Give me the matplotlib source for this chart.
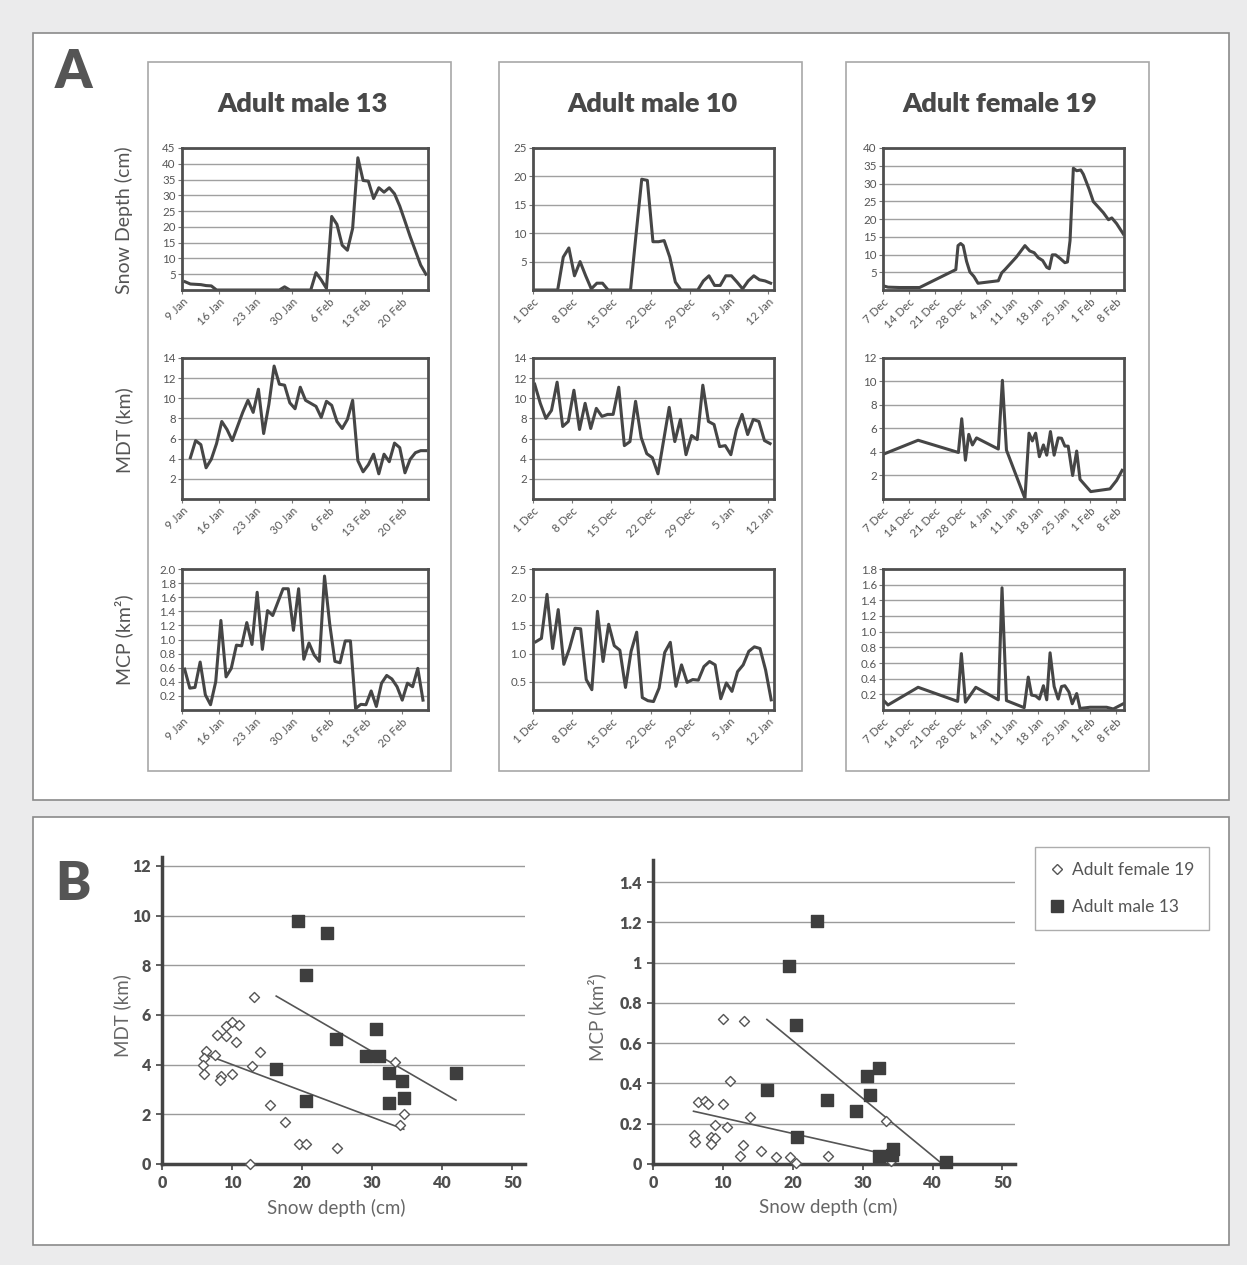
import numpy as np
import matplotlib.pyplot as plt
from matplotlib.patches import Rectangle
from matplotlib.lines import Line2D

plt.rcParams['font.family'] = ['Lato', 'DejaVu Sans']

W, H = 1247, 1265
DARK = '#464646'
GRID = '#a0a0a0'
TXT = '#555555'

# ---------------- panel A data (x = days since first tick date) ----------------
# Adult male 13, days from 9 Jan
m13_ticks = ['9 Jan', '16 Jan', '23 Jan', '30 Jan', '6 Feb', '13 Feb', '20 Feb']
m13_snow_start = 0.6
m13_snow = [2.6, 1.9, 1.8, 1.7, 1.4, 1.3, 0, 0, 0, 0, 0, 0, 0, 0, 0, 0, 0, 0, 0,
            1.0, 0, 0, 0, 0, 0, 5.5, 3.2, 0.5, 23.3, 20.8, 14.2, 12.6, 19.5, 41.9,
            34.7, 34.5, 29.0, 32.4, 31.0, 32.4, 30.5, 26.6, 21.8, 16.9, 12.4, 7.9, 5.0]
m13_mdt_start = 1.6
m13_mdt = [4.1, 5.8, 5.4, 3.1, 3.95, 5.5, 7.7, 6.9, 5.8, 7.2, 8.6, 9.8, 8.6, 10.9,
           6.5, 9.4, 13.2, 11.4, 11.3, 9.55, 8.96, 11.1, 9.8, 9.5, 9.2, 8.1, 9.7,
           9.3, 7.7, 7.0, 7.9, 9.8, 3.8, 2.7, 3.4, 4.45, 2.5, 4.45, 3.7, 5.55, 5.1,
           2.6, 3.95, 4.6, 4.8, 4.8]
m13_mcp_start = 0.5
m13_mcp = [0.58, 0.31, 0.32, 0.68, 0.215, 0.075, 0.40, 1.27, 0.47, 0.59, 0.92, 0.91,
           1.24, 0.93, 1.67, 0.86, 1.41, 1.34, 1.53, 1.72, 1.72, 1.13, 1.72, 0.72,
           0.95, 0.78, 0.69, 1.90, 1.22, 0.69, 0.67, 0.98, 0.98, 0.02, 0.08, 0.075,
           0.27, 0.05, 0.38, 0.49, 0.44, 0.33, 0.14, 0.38, 0.33, 0.59, 0.14]

# Adult male 10, days from 1 Dec
m10_ticks = ['1 Dec', '8 Dec', '15 Dec', '22 Dec', '29 Dec', '5 Jan', '12 Jan']
m10_snow_start = 0.4
m10_snow = [0, 0, 0, 0, 0, 5.8, 7.4, 2.5, 5.0, 2.5, 0.2, 1.2, 1.2, 0, 0, 0, 0, 0,
            9.9, 19.5, 19.3, 8.5, 8.5, 8.7, 5.8, 1.4, 0, 0, 0, 0, 1.6, 2.5, 0.8,
            0.8, 2.5, 2.5, 1.4, 0.2, 1.6, 2.5, 1.8, 1.6, 1.2]
m10_mdt_start = 0.3
m10_mdt = [11.4, 9.5, 8.0, 8.8, 11.6, 7.2, 7.7, 10.8, 6.9, 9.5, 7.0, 9.0, 8.2, 8.4,
           8.4, 11.1, 5.3, 5.7, 9.7, 6.1, 4.5, 4.1, 2.5, 5.8, 9.1, 5.7, 7.9, 4.4,
           6.3, 5.9, 11.3, 7.7, 7.4, 5.2, 5.3, 4.4, 6.9, 8.4, 6.4, 7.9, 7.7, 5.8, 5.5]
m10_mcp_start = 0.5
m10_mcp = [1.21, 1.27, 2.05, 1.09, 1.78, 0.81, 1.09, 1.45, 1.44, 0.54, 0.36, 1.75,
           0.86, 1.52, 1.14, 1.06, 0.40, 1.04, 1.38, 0.22, 0.165, 0.15, 0.39, 1.02,
           1.20, 0.42, 0.80, 0.49, 0.54, 0.53, 0.77, 0.86, 0.80, 0.20, 0.48, 0.33,
           0.68, 0.80, 1.04, 1.12, 1.09, 0.71, 0.18]

# Adult female 19, days from 7 Dec (irregular sampling)
f19_ticks = ['7 Dec', '14 Dec', '21 Dec', '28 Dec', '4 Jan', '11 Jan', '18 Jan',
             '25 Jan', '1 Feb', '8 Feb']
f19_snow_days = [0, 1.35, 4.5, 9.9, 19.7, 20.3, 21.0, 21.7, 22.6, 23.5, 24.6, 25.7,
                 31.2, 32.1, 33.0, 36.1, 38.4, 39.7, 40.9, 42.0, 43.2, 44.3, 45.0,
                 45.8, 46.7, 47.9, 49.2, 49.9, 50.6, 51.5, 52.4, 53.5, 54.2, 55.8,
                 56.9, 58.3, 59.6, 61.0, 61.9, 63.2, 65.0]
f19_snow = [1.2, 0.8, 0.7, 0.7, 5.75, 12.5, 13.1, 12.5, 8.1, 5.1, 3.8, 1.9, 2.6, 4.8,
            5.75, 9.3, 12.5, 11.0, 10.5, 9.1, 8.3, 6.4, 6.0, 9.9, 9.9, 8.9, 7.7, 7.9,
            13.9, 34.3, 33.6, 33.8, 32.6, 28.3, 24.9, 23.3, 21.8, 19.8, 20.3, 18.7, 15.8]
f19_mdt_days = [0, 9.5, 20.4, 21.3, 22.3, 23.2, 24.2, 25.3, 31.2, 32.3, 33.4, 38.4,
                39.5, 40.4, 41.3, 42.3, 43.4, 44.3, 45.3, 46.3, 47.4, 48.3, 49.2,
                50.1, 51.3, 52.4, 53.3, 56.2, 61.4, 63.2, 64.7]
f19_mdt = [3.8, 5.0, 3.96, 6.83, 3.3, 5.5, 4.6, 5.2, 4.25, 10.1, 4.16, 0.05, 5.6,
           4.94, 5.6, 3.6, 4.6, 3.73, 5.74, 3.73, 5.2, 5.17, 4.5, 4.5, 2.0, 4.08,
           1.67, 0.63, 0.86, 1.58, 2.44]
f19_mcp_days = [0, 1.35, 9.5, 20.2, 21.2, 22.3, 25.1, 31.2, 32.2, 33.4, 38.2, 39.3,
                40.2, 41.3, 42.3, 43.4, 44.3, 45.2, 46.3, 47.4, 48.3, 49.2, 50.3,
                51.2, 52.4, 53.3, 56.0, 60.5, 62.3, 65.0]
f19_mcp = [0.13, 0.064, 0.29, 0.11, 0.72, 0.10, 0.29, 0.13, 1.56, 0.12, 0.03, 0.42,
           0.19, 0.18, 0.14, 0.31, 0.13, 0.73, 0.30, 0.14, 0.30, 0.31, 0.23, 0.08,
           0.21, 0.02, 0.035, 0.035, 0.013, 0.08]

# ---------------- panel B data ----------------
f19_depth_a = [12.5, 13.1, 6.3, 5.95, 5.86, 6.05, 7.6, 7.86, 8.48, 8.33, 9.1, 9.1,
               10.0, 10.0, 10.6, 11.05, 12.86, 14.05, 15.4, 17.5, 19.6, 20.5, 25.0,
               33.3, 33.95, 34.5]
f19_mdt_b = [0.0, 6.74, 4.53, 4.26, 4.0, 3.64, 4.37, 5.18, 3.55, 3.37, 5.54, 5.16,
             5.73, 3.61, 4.92, 5.6, 3.93, 4.52, 2.39, 1.68, 0.79, 0.79, 0.63, 4.09,
             1.57, 2.0]
m13_depth_a = [19.4, 23.5, 20.6, 30.6, 24.9, 29.1, 30.95, 16.3, 32.4, 34.3, 41.95,
               20.6, 32.4, 34.5]
m13_mdt_b = [9.79, 9.32, 7.62, 5.44, 5.04, 4.34, 4.34, 3.83, 3.66, 3.33, 3.66, 2.52,
             2.44, 2.64]
f19_depth_b = [9.98, 13.07, 11.03, 6.37, 7.46, 7.84, 9.98, 13.88, 5.8, 5.94, 8.94,
               10.55, 8.32, 8.89, 8.32, 12.83, 12.45, 15.4, 17.54, 19.58, 20.53,
               25.05, 33.27, 34.08]
f19_mcp_b = [0.721, 0.708, 0.414, 0.308, 0.311, 0.298, 0.300, 0.232, 0.146, 0.108,
             0.195, 0.184, 0.134, 0.129, 0.101, 0.093, 0.041, 0.066, 0.035, 0.035,
             0.005, 0.038, 0.212, 0.013]
m13_depth_b = [23.48, 19.49, 20.53, 32.41, 30.56, 16.3, 30.99, 24.9, 29.09, 20.63,
               34.41, 32.41, 34.22, 41.92]
m13_mcp_b = [1.205, 0.985, 0.688, 0.477, 0.435, 0.369, 0.344, 0.319, 0.261, 0.134,
             0.074, 0.041, 0.045, 0.010]


fig = plt.figure(figsize=(W / 100, H / 100), dpi=100, facecolor='#ebebec')


def px_rect(x0, y0, x1, y1):
    return [x0 / W, 1 - y1 / H, (x1 - x0) / W, (y1 - y0) / H]


def box(x0, y0, x1, y1, ec):
    fig.add_artist(Rectangle((x0 / W, 1 - y1 / H), (x1 - x0) / W, (y1 - y0) / H,
                             transform=fig.transFigure, fc='white', ec=ec,
                             lw=1.2, zorder=-1))


box(33, 33, 1229, 800, '#8a8a8a')
box(33, 817, 1229, 1245, '#8a8a8a')
for cx0 in (148, 499, 846):
    box(cx0, 62, cx0 + 303, 771, '#a8a8a8')


def ts_panel(rect, x, y, xmax, ticklabels, ymax, ystep, fmt):
    ax = fig.add_axes(rect)
    ax.plot(x, y, color=DARK, lw=2.2, solid_joinstyle='round')
    ax.set_xlim(0, xmax)
    ax.set_ylim(0, ymax)
    ax.set_xticks(np.arange(len(ticklabels)) * 7)
    ax.set_xticklabels(ticklabels, rotation=45, ha='right', rotation_mode='anchor')
    yt = np.arange(ystep, ymax + ystep / 2, ystep)
    ax.set_yticks(yt)
    ax.set_yticklabels([fmt % v for v in yt])
    ax.yaxis.grid(True, color=GRID, lw=1)
    ax.set_axisbelow(True)
    for s in ax.spines.values():
        s.set_color('#4f4f4f')
        s.set_linewidth(2)
    ax.tick_params(labelsize=8.3, labelcolor=TXT, color='#777777', length=3,
                   width=0.8, pad=1.5)
    return ax


rows = [(148, 290), (358, 499), (569, 710)]
cols = [(182, 428), (533, 774), (883, 1124)]

# column 1: adult male 13
c = cols[0]
ts_panel(px_rect(c[0], rows[0][0], c[1], rows[0][1]),
         m13_snow_start + np.arange(len(m13_snow)), m13_snow, 47, m13_ticks, 45, 5, '%d')
ts_panel(px_rect(c[0], rows[1][0], c[1], rows[1][1]),
         m13_mdt_start + np.arange(len(m13_mdt)), m13_mdt, 47, m13_ticks, 14, 2, '%d')
ts_panel(px_rect(c[0], rows[2][0], c[1], rows[2][1]),
         m13_mcp_start + 0.99 * np.arange(len(m13_mcp)), m13_mcp, 47, m13_ticks, 2.0, 0.2, '%.1f')

# column 2: adult male 10
c = cols[1]
ts_panel(px_rect(c[0], rows[0][0], c[1], rows[0][1]),
         m10_snow_start + np.arange(len(m10_snow)), m10_snow, 43, m10_ticks, 25, 5, '%d')
ts_panel(px_rect(c[0], rows[1][0], c[1], rows[1][1]),
         m10_mdt_start + np.arange(len(m10_mdt)), m10_mdt, 43, m10_ticks, 14, 2, '%d')
ts_panel(px_rect(c[0], rows[2][0], c[1], rows[2][1]),
         m10_mcp_start + np.arange(len(m10_mcp)), m10_mcp, 43, m10_ticks, 2.5, 0.5, '%.1f')

# column 3: adult female 19
c = cols[2]
ts_panel(px_rect(c[0], rows[0][0], c[1], rows[0][1]),
         f19_snow_days, f19_snow, 65.2, f19_ticks, 40, 5, '%d')
ts_panel(px_rect(c[0], rows[1][0], c[1], rows[1][1]),
         f19_mdt_days, f19_mdt, 65.2, f19_ticks, 12, 2, '%d')
ts_panel(px_rect(c[0], rows[2][0], c[1], rows[2][1]),
         f19_mcp_days, f19_mcp, 65.2, f19_ticks, 1.8, 0.2, '%.1f')

# titles and labels
for cx, title in zip((302, 652, 1000), ('Adult male 13', 'Adult male 10', 'Adult female 19')):
    fig.text(cx / W, 1 - 104 / H, title, ha='center', va='center', fontsize=19.5,
             fontweight='heavy', color='#484848')
for cy, lab in zip((220, 430, 640), ('Snow Depth (cm)', 'MDT (km)', 'MCP (km²)')):
    fig.text(124 / W, 1 - cy / H, lab, rotation=90, ha='center', va='center',
             fontsize=14, color=TXT)

fig.text(73 / W, 1 - 73 / H, 'A', ha='center', va='center', fontsize=38,
         fontweight='heavy', color='#555555')
fig.text(73 / W, 1 - 885 / H, 'B', ha='center', va='center', fontsize=38,
         fontweight='heavy', color='#555555')


# ---------------- panel B ----------------
def scatter_panel(rect, ymax, yticks, ylabels, fx, fy, mx, my):
    ax = fig.add_axes(rect)
    ax.scatter(fx, fy, marker='D', s=26, facecolors='white', edgecolors='#555555',
               linewidths=1.0, zorder=3, clip_on=False)
    ax.scatter(mx, my, marker='s', s=85, color='#3e3e3e', zorder=3, clip_on=False)
    for xs, ys in ((fx, fy), (mx, my)):
        k, b = np.polyfit(xs, ys, 1)
        xl = np.array([min(xs), max(xs)])
        ax.plot(xl, k * xl + b, color='#555555', lw=1.2, zorder=2)
    ax.set_xlim(0, 51.8)
    ax.set_ylim(0, ymax)
    ax.set_xticks(np.arange(0, 51, 10))
    ax.set_yticks(yticks)
    ax.set_yticklabels(ylabels)
    ax.yaxis.grid(True, color='#9a9a9a', lw=1)
    ax.set_axisbelow(True)
    for s in ('top', 'right'):
        ax.spines[s].set_visible(False)
    for s in ('left', 'bottom'):
        ax.spines[s].set_color('#444444')
        ax.spines[s].set_linewidth(2.5)
    ax.tick_params(labelsize=11.5, labelcolor='#4f4f4f', color='#444444', length=4,
                   width=1.2, pad=4)
    for t in ax.get_xticklabels() + ax.get_yticklabels():
        t.set_fontweight('heavy')
    return ax


scatter_panel(px_rect(162, 857, 525, 1164), 12.36, np.arange(0, 13, 2),
              ['%d' % v for v in np.arange(0, 13, 2)],
              f19_depth_a, f19_mdt_b, m13_depth_a, m13_mdt_b)
mcp_ticks = np.arange(0, 1.41, 0.2)
scatter_panel(px_rect(653, 860, 1015, 1164), 1.51, mcp_ticks,
              ['%g' % round(v, 1) for v in mcp_ticks],
              f19_depth_b, f19_mcp_b, m13_depth_b, m13_mcp_b)

fig.text(122 / W, 1 - 1016 / H, 'MDT (km)', rotation=90, ha='center', va='center',
         fontsize=13.5, color='#666666')
fig.text(597 / W, 1 - 1017 / H, 'MCP (km²)', rotation=90, ha='center', va='center',
         fontsize=13.5, color='#666666')
fig.text(336 / W, 1 - 1208 / H, 'Snow depth (cm)', ha='center', va='center',
         fontsize=13.5, color='#666666')
fig.text(828 / W, 1 - 1207 / H, 'Snow depth (cm)', ha='center', va='center',
         fontsize=13.5, color='#666666')

handles = [Line2D([], [], ls='none', marker='D', ms=5, mfc='white', mec='#555555', mew=1),
           Line2D([], [], ls='none', marker='s', ms=8.5, color='#3e3e3e')]
leg = fig.legend(handles, ['Adult female 19', 'Adult male 13'], loc='upper left',
                 bbox_to_anchor=(1035 / W, 1 - 847 / H), fancybox=False,
                 edgecolor='#999999', fontsize=12.5, labelcolor='#555555',
                 handlelength=0.8, handletextpad=0.5, labelspacing=1.25,
                 borderpad=0.85, borderaxespad=0)
leg.get_frame().set_linewidth(1)

fig.savefig('out.png', dpi=100, facecolor=fig.get_facecolor())
plt.close(fig)
